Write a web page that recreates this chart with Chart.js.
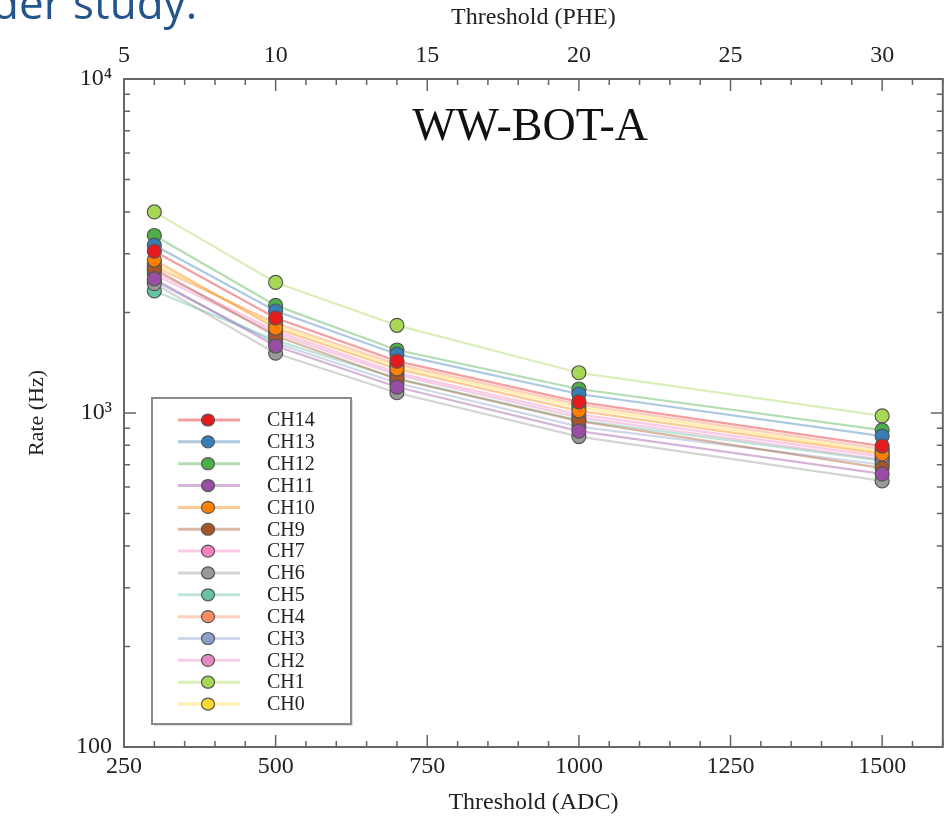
<!DOCTYPE html>
<html>
<head>
<meta charset="utf-8">
<script src="https://cdn.jsdelivr.net/npm/chart.js@4.4.0/dist/chart.umd.min.js"></script>
<style>
  html, body { margin: 0; padding: 0; background: #fff; overflow: hidden; }
  #wrap { position: relative; width: 951px; height: 819px; }
  #cut { position: absolute; left: -8px; top: -28px; font: 500 44px "Open Sans", sans-serif; color: #24548c; white-space: nowrap; }
</style>
</head>
<body>
<div id="wrap">
  <canvas id="rateChart" width="951" height="819"></canvas>
  <div id="cut">der study.</div>
</div>
<script>
// thresholds in ADC counts (1 PHE = 50 ADC)
const thresholds = [300, 500, 700, 1000, 1500];
const channels = ['CH14', 'CH13', 'CH12', 'CH11', 'CH10', 'CH9', 'CH7', 'CH6', 'CH5', 'CH4', 'CH3', 'CH2', 'CH1', 'CH0'];
const colors = ['#e41a1c', '#377eb8', '#4daf4a', '#984ea3', '#ff7f00', '#a65628', '#f781bf', '#999999',
                '#66c2a5', '#fc8d62', '#8da0cb', '#e78ac3', '#a6d854', '#ffd92f'];

const ch14 = [3050, 1925, 1430, 1080, 796];
const ch13 = [3180, 2020, 1500, 1140, 853];
const ch12 = [3400, 2100, 1544, 1180, 889];
const ch11 = [2520, 1587, 1196, 883, 657];
const ch10 = [2870, 1795, 1355, 1015, 754];
const ch9  = [2700, 1700, 1264, 946, 684];
const ch7  = [2650, 1760, 1320, 990, 740];
const ch6  = [2440, 1510, 1150, 850, 626];
const ch5  = [2320, 1650, 1270, 950, 720];
const ch4  = [2740, 1860, 1400, 1060, 780];
const ch3  = [2480, 1620, 1230, 910, 700];
const ch2  = [2600, 1730, 1300, 970, 725];
const ch1  = [4000, 2460, 1830, 1320, 980];
const ch0  = [2800, 1830, 1380, 1040, 765];
const rates = [ch14, ch13, ch12, ch11, ch10, ch9, ch7, ch6, ch5, ch4, ch3, ch2, ch1, ch0];

const adcTicks = [250, 500, 750, 1000, 1250, 1500];
const adcTickLabels = ['250', '500', '750', '1000', '1250', '1500'];
const pheTicks = [5, 10, 15, 20, 25, 30];
const pheTickLabels = ['5', '10', '15', '20', '25', '30'];
const rateTicks = [100, 1000, 10000];
const rateTickLabels = ['100', '10\u00B3', '10\u2074'];

const SERIF = '"Liberation Serif", "DejaVu Serif", serif';

function fade(hex, a) {
    const n = parseInt(hex.slice(1), 16);
    return `rgba(${n >> 16},${(n >> 8) & 255},${n & 255},${a})`;
}

// frame + inward tick marks, drawn like the matplotlib original
const framePlugin = {
    id: 'frame',
    afterDatasetsDraw(chart) {
        const { ctx, chartArea: a, scales } = chart;
        ctx.save();
        ctx.strokeStyle = '#666';
        ctx.lineWidth = 1.5;
        ctx.beginPath();
        for (let v = 250; v <= 1600; v += 50) {
            const px = scales.x.getPixelForValue(v);
            const len = (v % 250 === 0) ? 12 : 6;
            ctx.moveTo(px, a.bottom); ctx.lineTo(px, a.bottom - len);
            ctx.moveTo(px, a.top); ctx.lineTo(px, a.top + len);
        }
        for (let e = 100; e <= 1000; e *= 10) {
            for (let m = 1; m <= 10; m++) {
                const v = e * m;
                const py = scales.y.getPixelForValue(v);
                const len = (m === 1 || m === 10) ? 12 : 6;
                ctx.moveTo(a.left, py); ctx.lineTo(a.left + len, py);
                ctx.moveTo(a.right, py); ctx.lineTo(a.right - len, py);
            }
        }
        ctx.stroke();
        ctx.lineWidth = 2;
        ctx.strokeRect(a.left, a.top, a.right - a.left, a.bottom - a.top);

        ctx.fillStyle = '#111';
        ctx.font = '46px ' + SERIF;
        ctx.textAlign = 'center';
        ctx.textBaseline = 'middle';
        ctx.fillText('WW-BOT-A', a.left + (a.right - a.left) * 0.496, 128);
        ctx.restore();
    },
    afterDraw(chart) {
        const { ctx } = chart;
        const bx = 152, by = 398, bw = 199, bh = 326;
        ctx.save();
        ctx.fillStyle = 'rgba(0,0,0,0.12)';
        ctx.fillRect(bx + 2, by + 2, bw, bh);
        ctx.fillStyle = '#fff';
        ctx.fillRect(bx, by, bw, bh);
        ctx.strokeStyle = '#8a8a8a';
        ctx.lineWidth = 2;
        ctx.strokeRect(bx, by, bw, bh);
        ctx.font = '20px ' + SERIF;
        ctx.textBaseline = 'middle';
        chart.data.datasets.forEach((ds, i) => {
            const y = 420 + i * 21.85;
            ctx.strokeStyle = ds.borderColor;
            ctx.lineWidth = 3;
            ctx.beginPath();
            ctx.moveTo(178, y); ctx.lineTo(240, y);
            ctx.stroke();
            ctx.beginPath();
            ctx.ellipse(208, y, 6.5, 6, 0, 0, Math.PI * 2);
            ctx.fillStyle = ds.pointBackgroundColor;
            ctx.fill();
            ctx.strokeStyle = '#555';
            ctx.lineWidth = 1.2;
            ctx.stroke();
            ctx.fillStyle = '#222';
            ctx.fillText(ds.label, 267, y + 1);
        });
        ctx.restore();
    }
};

const datasets = channels.map((name, i) => ({
    label: name,
    data: thresholds.map((t, k) => ({ x: t, y: rates[i][k] })),
    borderColor: fade(colors[i], 0.42),
    borderWidth: 2.2,
    pointBackgroundColor: colors[i],
    pointBorderColor: '#555',
    pointBorderWidth: 1.2,
    pointRadius: 7,
    tension: 0,
    xAxisID: 'x',
    yAxisID: 'y'
}));

const tickFont = { family: SERIF, size: 24 };
const titleFont = { family: SERIF, size: 24 };

new Chart(document.getElementById('rateChart').getContext('2d'), {
    type: 'line',
    data: { datasets: datasets },
    options: {
        responsive: false,
        animation: false,
        layout: { padding: 0 },
        plugins: { legend: { display: false }, tooltip: { enabled: false } },
        scales: {
            x: {
                type: 'linear', position: 'bottom', min: 250, max: 1600,
                grid: { display: false, drawTicks: false }, border: { display: false },
                afterBuildTicks: s => { s.ticks = adcTicks.map(v => ({ value: v })); },
                afterFit: s => { s.height = 72; },
                ticks: { font: tickFont, color: '#222', padding: 5, maxRotation: 0,
                         callback: v => adcTickLabels[adcTicks.indexOf(v)] },
                title: { display: true, text: 'Threshold (ADC)', font: titleFont, color: '#222', padding: { top: 0, bottom: 2 } }
            },
            x2: {
                type: 'linear', position: 'top', min: 5, max: 32,
                grid: { display: false, drawTicks: false }, border: { display: false },
                afterBuildTicks: s => { s.ticks = pheTicks.map(v => ({ value: v })); },
                afterFit: s => { s.height = 79; },
                ticks: { font: tickFont, color: '#222', padding: 9, maxRotation: 0,
                         callback: v => pheTickLabels[pheTicks.indexOf(v)] },
                title: { display: true, text: 'Threshold (PHE)', font: titleFont, color: '#222', padding: { top: 3, bottom: 0 } }
            },
            y: {
                type: 'logarithmic', position: 'left', min: 100, max: 10000,
                grid: { display: false, drawTicks: false }, border: { display: false },
                afterBuildTicks: s => { s.ticks = rateTicks.map(v => ({ value: v })); },
                afterFit: s => { s.width = 124; },
                ticks: {
                    font: tickFont, color: '#222', padding: 12,
                    callback: v => rateTickLabels[rateTicks.indexOf(v)]
                },
                title: { display: true, text: 'Rate (Hz)', font: { family: SERIF, size: 22 }, color: '#222', padding: { top: 24, bottom: 0 } }
            },
            y2: {
                type: 'logarithmic', position: 'right', min: 100, max: 10000,
                grid: { display: false, drawTicks: false }, border: { display: false },
                ticks: { display: false },
                afterFit: s => { s.width = 7; }
            }
        }
    },
    plugins: [framePlugin]
});
</script>
</body>
</html>
